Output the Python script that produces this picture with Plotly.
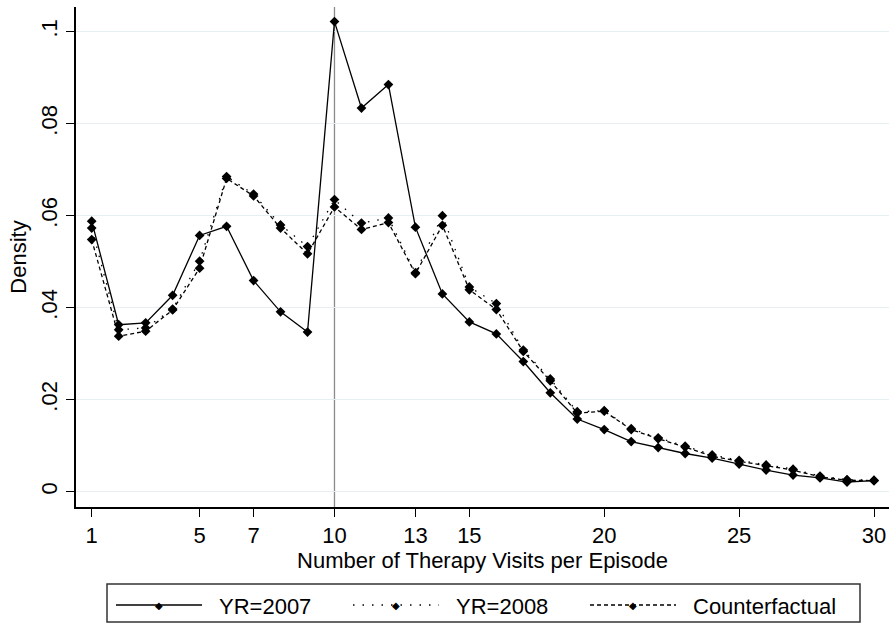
import plotly.graph_objects as go

# Therapy visits per episode and estimated densities
visits = list(range(1, 31))
yr2007 = [0.0588, 0.0363, 0.0367, 0.0427, 0.0557, 0.0577, 0.0459, 0.0391, 0.0347, 0.1022,
          0.0834, 0.0885, 0.0575, 0.0430, 0.0369, 0.0343, 0.0283, 0.0215, 0.0158, 0.0135,
          0.0109, 0.0096, 0.0083, 0.0073, 0.0060, 0.0047, 0.0036, 0.0030, 0.0021, 0.0024]
yr2008 = [0.0573, 0.0352, 0.0356, 0.0397, 0.0501, 0.0685, 0.0647, 0.0580, 0.0533, 0.0635,
          0.0584, 0.0595, 0.0476, 0.0600, 0.0445, 0.0409, 0.0308, 0.0245, 0.0174, 0.0176,
          0.0137, 0.0117, 0.0099, 0.0080, 0.0068, 0.0058, 0.0049, 0.0034, 0.0026, 0.0025]
counterfactual = [0.0548, 0.0338, 0.0349, 0.0395, 0.0486, 0.0681, 0.0643, 0.0573, 0.0517, 0.0619,
                  0.0570, 0.0585, 0.0474, 0.0579, 0.0439, 0.0396, 0.0305, 0.0241, 0.0171, 0.0175,
                  0.0135, 0.0115, 0.0097, 0.0077, 0.0066, 0.0056, 0.0047, 0.0032, 0.0025, 0.0024]

x_ticks = [1, 5, 7, 10, 13, 15, 20, 25, 30]
y_ticks = [0, 0.02, 0.04, 0.06, 0.08, 0.1]
y_tick_text = ["0", ".02", ".04", ".06", ".08", ".1"]

series_names = ["YR=2007", "YR=2008", "Counterfactual"]
series_dash = ["solid", "1.5px,8px", "4px,3px"]

W, H = 890, 625
ML, MR, MT, MB = 76, 1, 7, 118
FONT = "Liberation Sans, Arial, sans-serif"

fig = go.Figure()
for name, ys, dash in zip(series_names, [yr2007, yr2008, counterfactual], series_dash):
    fig.add_trace(go.Scatter(
        x=visits, y=ys, name=name, mode="lines+markers",
        line=dict(color="black", width=1.3, dash=dash),
        marker=dict(symbol="diamond", size=7.5, color="black"),
        showlegend=False,
    ))

# reference line at 10 visits
fig.add_shape(type="line", xref="x", yref="paper", x0=10, x1=10, y0=0, y1=1,
              line=dict(color="#8a8a8a", width=1.3), layer="below")

# legend box drawn below the plot area
pw, ph = W - ML - MR, H - MT - MB


def px_x(p):
    return (p - ML) / pw


def px_y(p):
    return (H - MB - p) / ph


fig.add_shape(type="rect", xref="paper", yref="paper",
              x0=px_x(107), x1=px_x(860), y0=px_y(584), y1=px_y(622),
              line=dict(color="#333333", width=1.5), fillcolor="white")
starts = [116, 353, 590]
for name, dash, s in zip(series_names, series_dash, starts):
    fig.add_shape(type="line", xref="paper", yref="paper",
                  x0=px_x(s), x1=px_x(s + 86), y0=px_y(605), y1=px_y(605),
                  line=dict(color="black", width=1.3, dash=dash))
    fig.add_annotation(xref="paper", yref="paper", x=px_x(s + 43), y=px_y(605),
                       text="◆", showarrow=False, xanchor="center", yanchor="middle",
                       font=dict(family="DejaVu Sans", size=10, color="black"))
    fig.add_annotation(xref="paper", yref="paper", x=px_x(s + 101), y=px_y(606),
                       text=name, showarrow=False, xanchor="left", yanchor="middle",
                       font=dict(family=FONT, size=22, color="black"))

fig.update_layout(
    width=W, height=H,
    margin=dict(l=ML, r=MR, t=MT, b=MB),
    paper_bgcolor="white", plot_bgcolor="white",
    font=dict(family=FONT, size=22, color="black"),
    showlegend=False,
)
fig.update_xaxes(
    range=[0.418, 30.556], tickvals=x_ticks, ticks="outside", ticklen=8,
    tickwidth=1.2, tickcolor="black", showline=True, linecolor="black", linewidth=1.5,
    showgrid=False, zeroline=False, tickfont=dict(size=22),
    title=dict(text="Number of Therapy Visits per Episode", font=dict(size=22), standoff=0),
)
fig.update_yaxes(
    range=[-0.00333, 0.10537], tickvals=y_ticks, ticktext=y_tick_text, tickangle=-90,
    ticks="outside", ticklen=8, tickwidth=1.2, tickcolor="black",
    showline=True, linecolor="black", linewidth=1.5,
    showgrid=True, gridcolor="#e6eff1", gridwidth=1, zeroline=False,
    tickfont=dict(size=22),
    title=dict(text="Density", font=dict(size=22), standoff=5),
)

fig.write_html("out.html")
